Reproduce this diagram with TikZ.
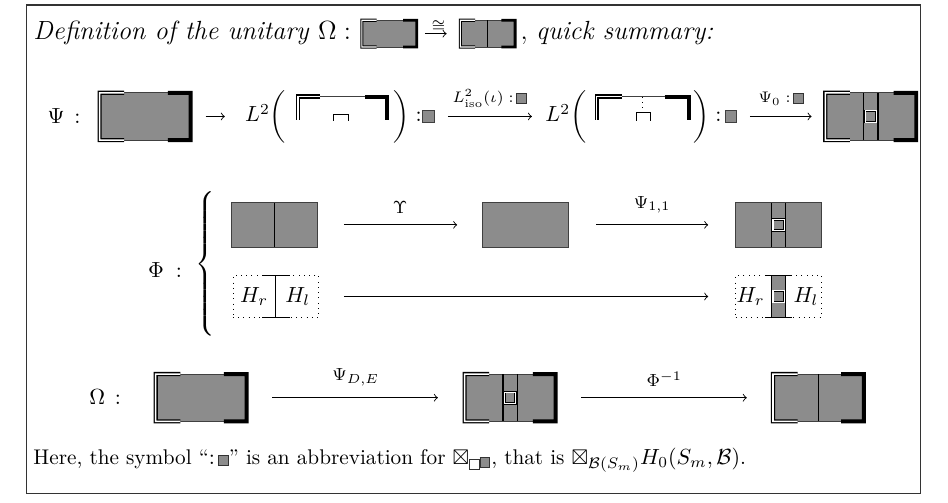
\documentclass[tikz,border=0pt]{standalone}
\usepackage{amsmath}
\usepackage{amssymb}
\usepackage{tikz}
\usetikzlibrary{calc}
\usepackage{xcolor}

\definecolor{boxgray}{HTML}{8C8C8C}

% small squares used inside text
\newcommand{\gsq}{{\setlength{\fboxsep}{0pt}\setlength{\fboxrule}{0.4pt}\fcolorbox{black!80}{boxgray}{\rule{0pt}{4pt}\hspace{4pt}}}}
\newcommand{\wsq}{{\setlength{\fboxsep}{0pt}\setlength{\fboxrule}{0.4pt}\fcolorbox{black!80}{white}{\rule{0pt}{4pt}\hspace{4pt}}}}

\tikzset{
  dom/.style={draw=black!75, fill=boxgray, line width=0.4pt, inner sep=0pt, outer sep=0pt,
    minimum width=1.46cm, minimum height=0.76cm},
  blk/.style={dom, minimum width=1.38cm, minimum height=0.71cm},
  dts/.style={draw, dotted, inner sep=0pt, outer sep=0pt, minimum width=1.38cm, minimum height=0.67cm},
  sq/.style={draw=black!75, fill=boxgray, inner sep=0pt, outer sep=0pt, minimum size=0.18cm},
  dbl/.style={double=white, double distance=0.7pt, line width=0.6pt, line join=miter},
  thk/.style={line width=1.8pt, line join=miter},
  hole/.style={draw=black, double=white, double distance=0.5pt, line width=0.35pt, fill=boxgray},
  mth/.style={inner sep=0pt},
  lbl/.style={inner sep=0pt, font=\scriptsize},
  biglbl/.style={inner sep=0pt, font=\fontsize{8.5}{10}\selectfont}
}

% boundary pieces of a domain node
\newcommand{\domedges}[1]{%
  \draw[dbl] ($(#1.north west)!0.27!(#1.north east)$) -- (#1.north west) -- (#1.south west) -- ($(#1.south west)!0.27!(#1.south east)$);
  \draw[thk] ($(#1.north east)!0.25!(#1.north west)$) -- (#1.north east) -- (#1.south east) -- ($(#1.south east)!0.25!(#1.south west)$);}

% middle column with the small hole
\newcommand{\holecol}[1]{%
  \draw[line width=0.6pt] ($(#1.north)+(-0.115,0)$) -- ($(#1.south)+(-0.115,0)$);
  \draw[line width=0.6pt] ($(#1.north)+(0.115,0)$) -- ($(#1.south)+(0.115,0)$);
  \draw[hole] ($(#1.center)+(-0.09,-0.09)$) rectangle ($(#1.center)+(0.09,0.09)$);}

\begin{document}
\begin{tikzpicture}
  \useasboundingbox (0,0) rectangle (15.22,8.07);
  % frame
  \draw[black!80, line width=0.5pt] (0.43,0.14) rectangle (14.78,7.99);

  % title line
  \node[mth, anchor=base west, font=\large] (ttl) at (0.53,7.43) {\textit{Definition of the unitary} $\Omega :$};
  \begin{scope}[dbl/.append style={line width=0.45pt, double distance=0.5pt}, thk/.append style={line width=1.3pt}]
    \node[dom, minimum width=0.88cm, minimum height=0.43cm] (t1) at (6.25,7.53) {};
    \domedges{t1}
    \node[dom, minimum width=0.88cm, minimum height=0.43cm] (t2) at (7.83,7.53) {};
    \draw (t2.north) -- (t2.south);
    \domedges{t2}
  \end{scope}
  \draw[->, shorten <=0.13cm, shorten >=0.22cm] (t1) -- node[above=1pt, lbl] {$\cong$} (t2);
  \node[mth, anchor=base west, font=\large] (qs) at (8.35,7.43) {$,$\ \textit{quick summary:}};

  % Psi
  \node (psi) at (1.03,6.20) {$\Psi\,:$};
  \node[dom] (p1) at (2.33,6.20) {};
  \domedges{p1}
  \node[mth, anchor=west] (l2a) at (3.93,6.20) {$L^2\bigg($};
  \draw[->, shorten <=0.24cm, shorten >=0.32cm] (p1) -- (l2a);
  \draw[dbl] (5.14,6.52) -- (4.78,6.52) -- (4.78,6.15);
  \draw[black!75] (5.14,6.52) -- (5.86,6.52);
  \draw[thk] (5.86,6.52) -- (6.21,6.52) -- (6.21,6.15);
  \draw (5.36,6.13) -- (5.36,6.24) -- (5.59,6.24) -- (5.59,6.13);
  \node[mth, anchor=west] (r2a) at (6.31,6.20) {$\bigg):$};
  \node[sq] (sqa) at (6.88,6.20) {};
  \node[mth, anchor=west] (l2b) at (8.75,6.20) {$L^2\bigg($};
  \draw[->, shorten <=0.22cm, shorten >=0.21cm] (sqa) -- node[above=4pt, lbl] {$L^2_{\mathrm{iso}}(\iota):$\,\gsq} (l2b);
  \draw[dbl] (9.98,6.52) -- (9.58,6.52) -- (9.58,6.15);
  \draw[black!75] (9.98,6.52) -- (10.67,6.52);
  \draw[thk] (10.67,6.52) -- (11.06,6.52) -- (11.06,6.15);
  \draw[dotted] (10.32,6.52) -- (10.32,6.31);
  \draw (10.21,6.13) -- (10.21,6.26) -- (10.45,6.26) -- (10.45,6.13);
  \node[mth, anchor=west] (r2b) at (11.12,6.20) {$\bigg):$};
  \node[sq] (sqb) at (11.74,6.20) {};
  \node[dom] (p2) at (13.98,6.20) {};
  \holecol{p2}
  \domedges{p2}
  \draw[->, shorten <=0.21cm, shorten >=0.22cm] (sqb) -- node[above=5pt, lbl] {$\Psi_0:$\,\gsq} (p2);

  % Phi
  \node (phi) at (2.65,3.74) {$\Phi\;:$};
  \node[mth] (brc) at (3.31,3.82) {$\left\{\rule[-1.1cm]{0pt}{2.2cm}\right.$};
  \node[blk] (fA) at (4.41,4.46) {};
  \draw (fA.north) -- (fA.south);
  \node[blk] (fB) at (8.44,4.46) {};
  \node[blk] (fC) at (12.50,4.46) {};
  \holecol{fC}
  \draw[->, shorten <=0.42cm, shorten >=0.41cm] (fA) -- node[above=5pt, biglbl] {$\Upsilon$} (fB);
  \draw[->, shorten <=0.44cm, shorten >=0.44cm] (fB) -- node[above=5pt, biglbl] {$\Psi_{1,1}$} (fC);

  \node[dts] (gA) at (4.43,3.31) {};
  \draw (gA.north) -- (gA.south);
  \draw ($(gA.north)+(-0.22,0)$) -- ($(gA.north)+(0.22,0)$);
  \draw ($(gA.south)+(-0.22,0)$) -- ($(gA.south)+(0.22,0)$);
  \node (hrA) at ($(gA.center)+(-0.35,0)$) {$H_r$};
  \node (hlA) at ($(gA.center)+(0.35,0)$) {$H_l$};
  \node[dts] (gC) at (12.50,3.31) {};
  \fill[boxgray] ($(gC.north)+(-0.115,0)$) rectangle ($(gC.south)+(0.115,0)$);
  \holecol{gC}
  \draw ($(gC.north)+(-0.22,0)$) -- ($(gC.north)+(0.22,0)$);
  \draw ($(gC.south)+(-0.22,0)$) -- ($(gC.south)+(0.22,0)$);
  \node (hrC) at ($(gC.center)+(-0.45,0)$) {$H_r$};
  \node (hlC) at ($(gC.center)+(0.44,0)$) {$H_l$};
  \draw[->, shorten <=0.40cm, shorten >=0.44cm] (gA) -- (gC);

  % Omega
  \node (om) at (1.69,1.69) {$\Omega\,:$};
  \node[dom] (o1) at (3.23,1.685) {};
  \domedges{o1}
  \node[dom] (o2) at (8.19,1.685) {};
  \holecol{o2}
  \domedges{o2}
  \node[dom] (o3) at (13.14,1.685) {};
  \draw (o3.north) -- (o3.south);
  \domedges{o3}
  \draw[->, shorten <=0.41cm, shorten >=0.43cm] (o1) -- node[above=5pt, biglbl] {$\Psi_{D,E}$} (o2);
  \draw[->, shorten <=0.41cm, shorten >=0.42cm] (o2) -- node[above=5pt, biglbl] {$\Phi^{-1}$} (o3);

  % note
  \node[mth, anchor=base west, font=\fontsize{9.7}{12}\selectfont] (note) at (0.53,0.61) {Here, the symbol ``$:$\,\gsq'' is an abbreviation for $\boxtimes_{\wsq\raisebox{1pt}{\gsq}}$, that is $\boxtimes_{\mathcal{B}(S_m)}H_0(S_m,\mathcal{B})$.};
\end{tikzpicture}
\end{document}
